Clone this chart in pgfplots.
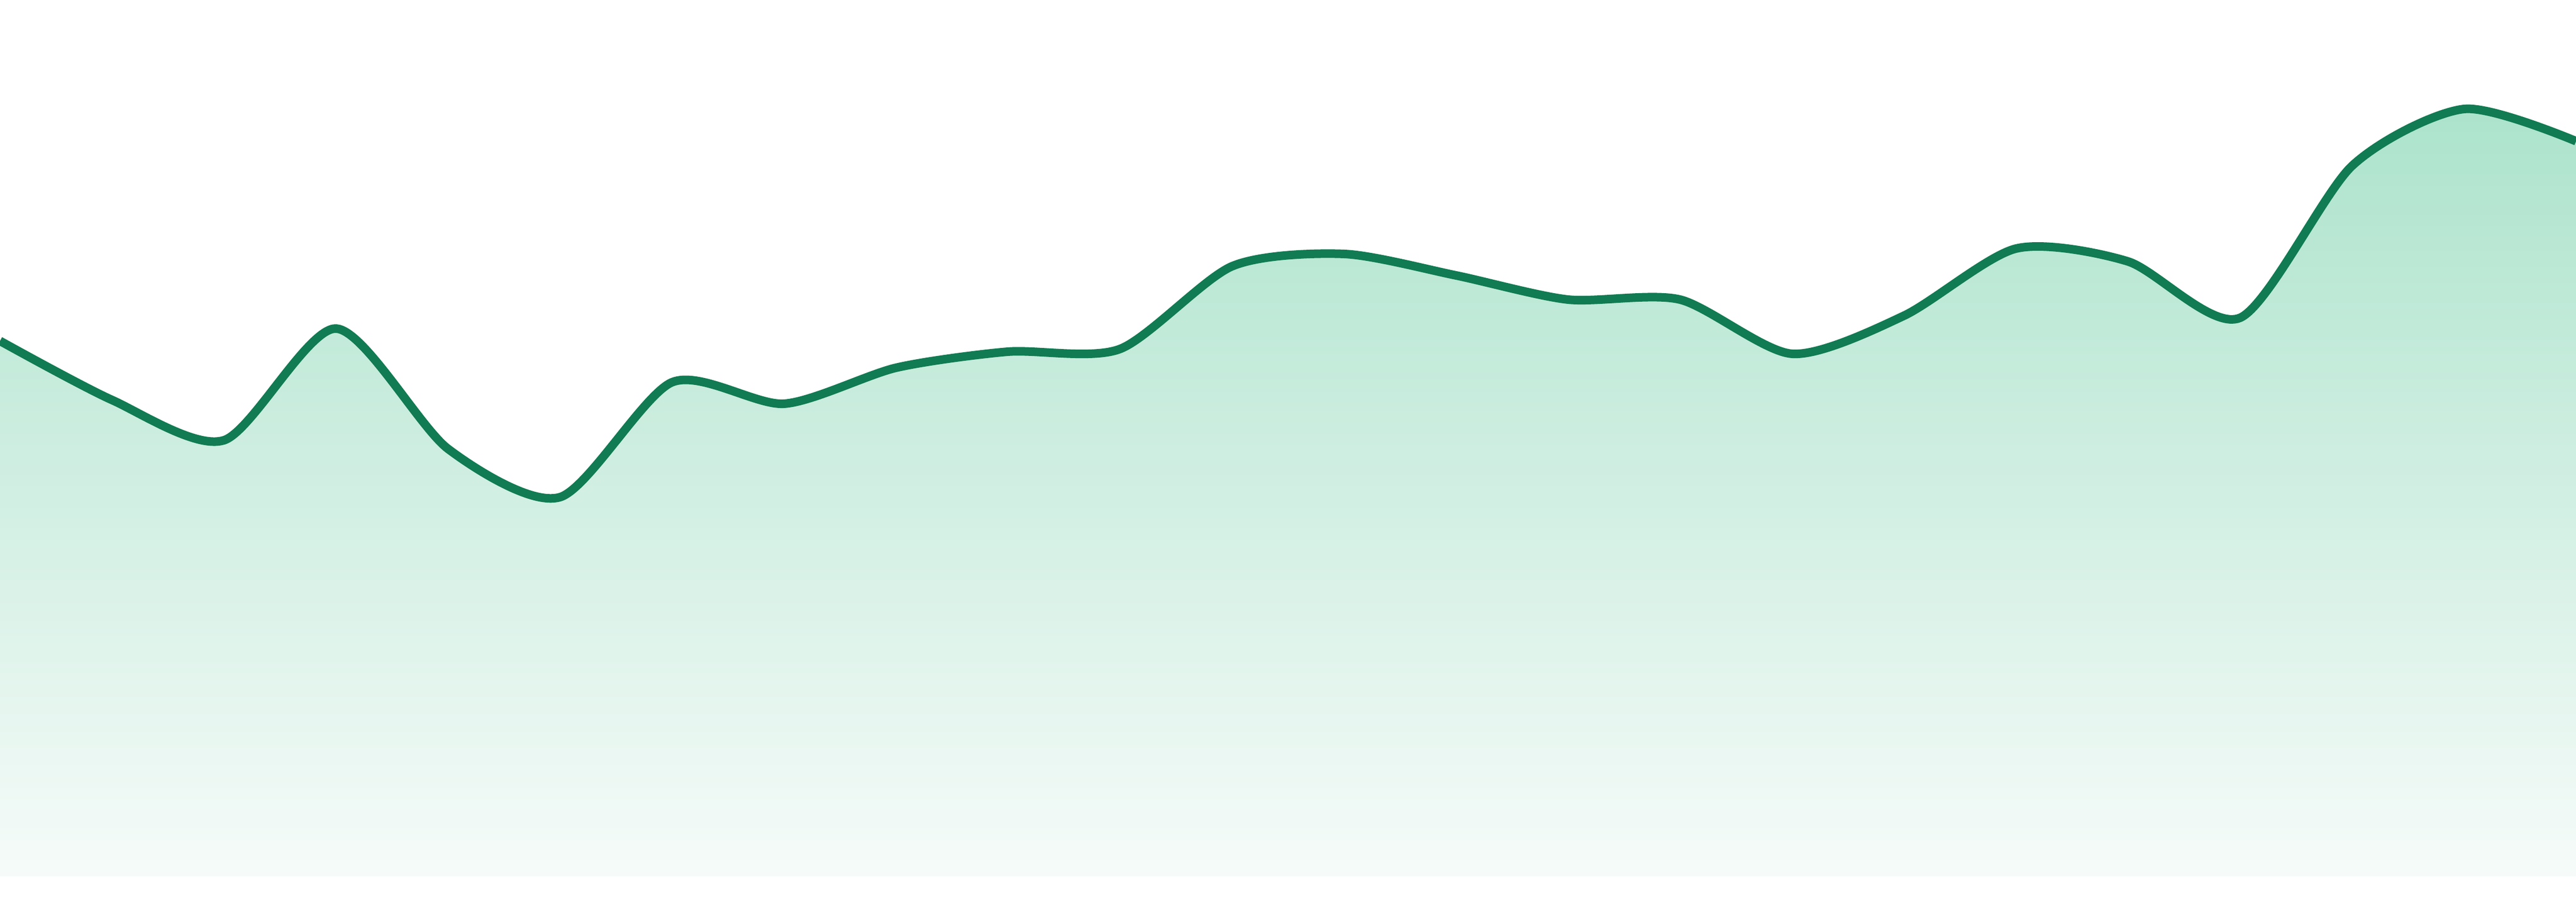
\documentclass[border=0pt]{standalone}
\usepackage{pgfplots}
\pgfplotsset{compat=1.18}

\definecolor{lineGreen}{RGB}{17,123,83}
\definecolor{fillTop}{RGB}{172,227,204}
\definecolor{fillBottom}{RGB}{246,251,249}

\begin{document}
\begin{tikzpicture}
	\begin{axis}[
			width=480pt,
			height=163.2pt,
			scale only axis,
			xmin=0, xmax=23,
			ymin=0, ymax=1632,
			axis lines=none,
			ticks=none,
		]

		% area under the curve, shaded from top to bottom
		\addplot[
			draw=none,
			smooth,
			tension=0.45,
			top color=fillTop,
			bottom color=fillBottom,
		]
		coordinates {
			(0,997)(1,887)(2,812)(3,1020)(4,796)(5,706)(6,920)(7,880)(8,947)(9,977)(10,982)(11,1136)
			(12,1159)(13,1119)(14,1074)(15,1074)(16,973)(17,1044)(18,1169)(19,1145)(20,1040)(21,1323)(22,1429)(23,1369)
		} \closedcycle;

		\addplot[
			smooth,
			tension=0.45,
			color=lineGreen,
			line width=1.6pt,
		]
		coordinates {
			(0,997)(1,887)(2,812)(3,1020)(4,796)(5,706)(6,920)(7,880)(8,947)(9,977)(10,982)(11,1136)
			(12,1159)(13,1119)(14,1074)(15,1074)(16,973)(17,1044)(18,1169)(19,1145)(20,1040)(21,1323)(22,1429)(23,1369)
		};

		\coordinate (sw) at (rel axis cs:0,0);
		\coordinate (ne) at (rel axis cs:1,1);
	\end{axis}
	% white strip below the area, as in the reference
	\path (sw) ++(0pt,-4.8pt) rectangle (ne);
\end{tikzpicture}
\end{document}
